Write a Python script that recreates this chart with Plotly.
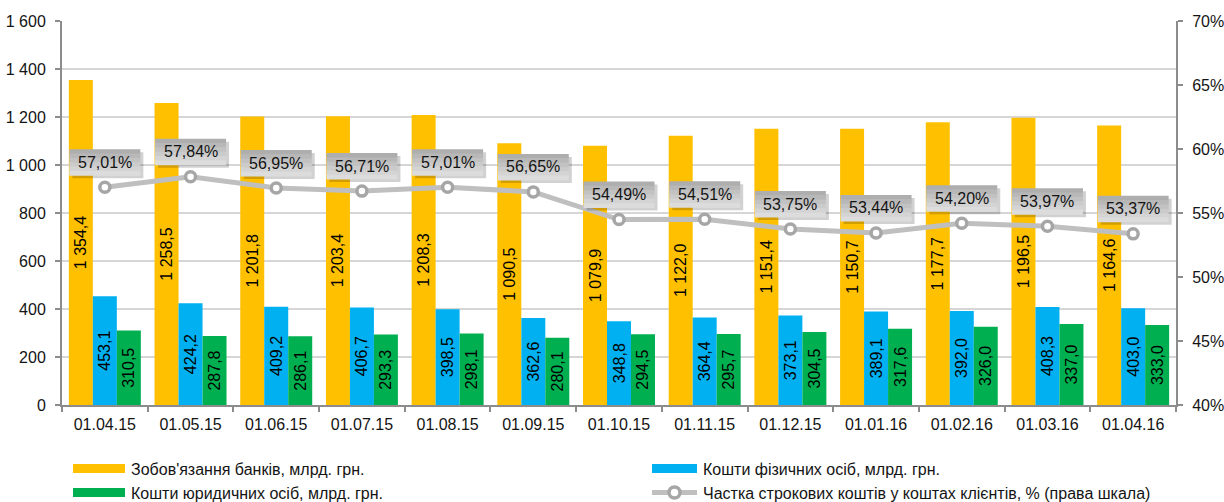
import plotly.graph_objects as go

# Data
dates = ["01.04.15", "01.05.15", "01.06.15", "01.07.15", "01.08.15", "01.09.15", "01.10.15",
         "01.11.15", "01.12.15", "01.01.16", "01.02.16", "01.03.16", "01.04.16"]
bank_liabilities = [1354.4, 1258.5, 1201.8, 1203.4, 1208.3, 1090.5, 1079.9,
                    1122.0, 1151.4, 1150.7, 1177.7, 1196.5, 1164.6]
individuals = [453.1, 424.2, 409.2, 406.7, 398.5, 362.6, 348.8,
               364.4, 373.1, 389.1, 392.0, 408.3, 403.0]
legal_entities = [310.5, 287.8, 286.1, 293.3, 298.1, 280.1, 294.5,
                  295.7, 304.5, 317.6, 326.0, 337.0, 333.0]
term_share = [57.01, 57.84, 56.95, 56.71, 57.01, 56.65, 54.49,
              54.51, 53.75, 53.44, 54.20, 53.97, 53.37]

names = ["Зобов'язання банків, млрд. грн.",
         "Кошти фізичних осіб, млрд. грн.",
         "Кошти юридичних осіб, млрд. грн.",
         "Частка строкових коштів у коштах клієнтів, % (права шкала)"]

YELLOW, BLUE, GREEN = "#FFC000", "#00B0F0", "#00B050"
LINE_GREY, MARKER_GREY = "#BFBFBF", "#A6A6A6"
FONT = "Liberation Sans, Arial, sans-serif"
TEXT = "#141414"

W, H = 1224, 502
ML, MR, MT, MB = 62, 48, 21, 97
PW, PH = W - ML - MR, H - MT - MB

fig = go.Figure()

for vals, col, nm in [(bank_liabilities, YELLOW, names[0]),
                      (individuals, BLUE, names[1]),
                      (legal_entities, GREEN, names[2])]:
    fig.add_trace(go.Bar(
        x=dates, y=vals, name=nm, marker=dict(color=col, line=dict(width=0)),
        texttemplate="%{y:,.1f}", textposition="inside", insidetextanchor="middle",
        textangle=-90, textfont=dict(color="black", size=16, family=FONT),
        showlegend=False, cliponaxis=False,
    ))

fig.add_trace(go.Scatter(
    x=dates, y=term_share, yaxis="y2", name=names[3], mode="lines+markers",
    line=dict(color=LINE_GREY, width=5),
    marker=dict(symbol="circle", size=10, color="white",
                line=dict(color=MARKER_GREY, width=3.5)),
    showlegend=False,
))

shapes = []
annotations = []

# Value boxes for the percentage line: shadow, gradient fill, text
BOX_W, BOX_H, BOX_LIFT = 71, 26, 12
grad = ["#AEAEAE", "#B8B8B8", "#C2C2C2", "#CBCBCB", "#D4D4D4", "#DCDCDC"]
strip = BOX_H / len(grad)
for d, v in zip(dates, term_share):
    shapes.append(dict(
        type="rect", xref="x", yref="y2", xsizemode="pixel", ysizemode="pixel",
        xanchor=d, yanchor=v, x0=-BOX_W / 2 + 3, x1=BOX_W / 2 + 3,
        y0=BOX_LIFT - 3, y1=BOX_LIFT + BOX_H - 3,
        fillcolor="rgba(0,0,0,0.18)", line=dict(width=0), layer="above"))
    for k, c in enumerate(grad):
        top = BOX_LIFT + BOX_H - k * strip
        shapes.append(dict(
            type="rect", xref="x", yref="y2", xsizemode="pixel", ysizemode="pixel",
            xanchor=d, yanchor=v, x0=-BOX_W / 2, x1=BOX_W / 2,
            y0=top - strip - 0.5, y1=top,
            fillcolor=c, line=dict(width=0), layer="above"))
    annotations.append(dict(
        x=d, y=v, xref="x", yref="y2", text=f"{v:.2f}".replace(".", ",") + "%",
        showarrow=False, yshift=BOX_LIFT + BOX_H / 2, xanchor="center", yanchor="middle",
        font=dict(size=16, color=TEXT, family=FONT)))

# Legend drawn in paper coordinates (pixel positions converted)
def px(xp):
    return (xp - ML) / PW

def py(yp):
    return (H - MB - yp) / PH

legend_items = [
    (names[0], YELLOW, 73, 125, 468.5, "bar"),
    (names[1], BLUE, 652, 697, 468.5, "bar"),
    (names[2], GREEN, 73, 125, 492.5, "bar"),
    (names[3], LINE_GREY, 652, 697, 492.5, "line"),
]
for nm, col, x0, x1, yc, kind in legend_items:
    if kind == "bar":
        shapes.append(dict(type="rect", xref="paper", yref="paper",
                           x0=px(x0), x1=px(x1), y0=py(yc + 4.5), y1=py(yc - 4.5),
                           fillcolor=col, line=dict(width=0)))
    else:
        shapes.append(dict(type="line", xref="paper", yref="paper",
                           x0=px(x0), x1=px(x1), y0=py(yc), y1=py(yc),
                           line=dict(color=col, width=5)))
        xm = (x0 + x1) / 2
        shapes.append(dict(type="circle", xref="paper", yref="paper",
                           x0=px(xm - 5.5), x1=px(xm + 5.5), y0=py(yc + 5.5), y1=py(yc - 5.5),
                           fillcolor="white", line=dict(color=MARKER_GREY, width=3.5)))
    annotations.append(dict(x=px(x1 + 4), y=py(yc + 1), xref="paper", yref="paper",
                            text=nm, showarrow=False, xanchor="left", yanchor="middle",
                            font=dict(size=16, color=TEXT, family=FONT)))

axis_common = dict(ticks="outside", ticklen=5, tickcolor="#8C8C8C", tickwidth=1.5,
                   showline=True, linecolor="#8C8C8C", linewidth=2, zeroline=False,
                   automargin=False,
                   tickfont=dict(size=16, family=FONT, color=TEXT))

fig.update_layout(
    width=W, height=H,
    margin=dict(l=ML, r=MR, t=MT, b=MB, pad=0, autoexpand=False),
    paper_bgcolor="white", plot_bgcolor="white",
    separators=", ",
    barmode="group", bargap=0.16, bargroupgap=0,
    uniformtext=dict(minsize=16, mode="show"),
    font=dict(family=FONT, size=16, color=TEXT),
    showlegend=False,
    xaxis=dict(type="category", range=[-0.5, len(dates) - 0.5], autorange=False,
               showgrid=False, tickson="boundaries", ticklabelstandoff=4, **axis_common),
    yaxis=dict(range=[0, 1600], dtick=200, tickformat=",", showgrid=True,
               gridcolor="#D6D6D6", gridwidth=1.5, ticklabelstandoff=6, **axis_common),
    yaxis2=dict(range=[40, 70], dtick=5, ticksuffix="%", overlaying="y", side="right",
                showgrid=False, ticklabelstandoff=6, **axis_common),
    shapes=shapes, annotations=annotations,
)

fig.write_html("out.html")
